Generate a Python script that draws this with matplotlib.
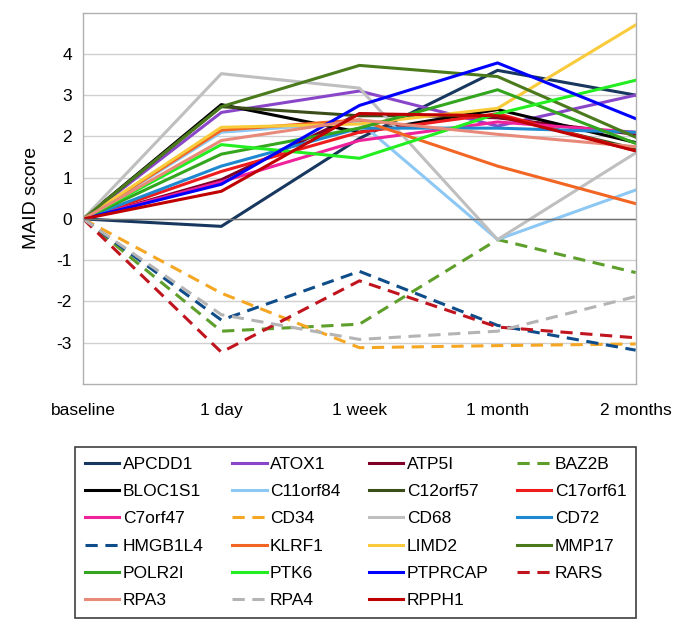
import matplotlib
matplotlib.use("Agg")
import matplotlib.pyplot as plt

plt.rcParams['font.family'] = ['Liberation Sans', 'DejaVu Sans']

timepoints = ["baseline", "1 day", "1 week", "1 month", "2 months"]

APCDD1   = [0, -0.18, 1.95, 3.60, 3.00]
ATOX1    = [0, 2.58, 3.10, 2.25, 3.00]
ATP5I    = [0, 0.95, 2.55, 2.45, 2.05]
BAZ2B    = [0, -2.72, -2.55, -0.50, -1.30]
BLOC1S1  = [0, 2.77, 2.10, 2.65, 1.85]
C11orf84 = [0, 2.10, 2.35, -0.50, 0.70]
C12orf57 = [0, 2.72, 2.50, 2.50, 1.70]
C17orf61 = [0, 1.15, 2.10, 2.55, 1.65]
C7orf47  = [0, 0.90, 1.90, 2.35, 2.10]
CD34     = [0, -1.80, -3.12, -3.07, -3.03]
CD68     = [0, 3.52, 3.17, -0.50, 1.60]
CD72     = [0, 1.28, 2.20, 2.20, 2.10]
HMGB1L4  = [0, -2.45, -1.27, -2.58, -3.18]
KLRF1    = [0, 2.15, 2.40, 1.28, 0.37]
LIMD2    = [0, 2.22, 2.30, 2.68, 4.70]
MMP17    = [0, 2.72, 3.72, 3.45, 1.98]
POLR2I   = [0, 1.57, 2.20, 3.13, 1.83]
PTK6     = [0, 1.80, 1.47, 2.55, 3.36]
PTPRCAP  = [0, 0.84, 2.75, 3.78, 2.43]
RARS     = [0, -3.23, -1.50, -2.62, -2.88]
RPA3     = [0, 1.90, 2.40, 2.05, 1.75]
RPA4     = [0, -2.32, -2.92, -2.72, -1.88]
RPPH1    = [0, 0.67, 2.55, 2.50, 1.65]

genes = ["APCDD1", "ATOX1", "ATP5I", "BAZ2B", "BLOC1S1", "C11orf84", "C12orf57",
         "C17orf61", "C7orf47", "CD34", "CD68", "CD72", "HMGB1L4", "KLRF1", "LIMD2",
         "MMP17", "POLR2I", "PTK6", "PTPRCAP", "RARS", "RPA3", "RPA4", "RPPH1"]
values = [APCDD1, ATOX1, ATP5I, BAZ2B, BLOC1S1, C11orf84, C12orf57, C17orf61,
          C7orf47, CD34, CD68, CD72, HMGB1L4, KLRF1, LIMD2, MMP17, POLR2I, PTK6,
          PTPRCAP, RARS, RPA3, RPA4, RPPH1]
colors = ["#17375E", "#8A46C8", "#7F0027", "#5E9E2A", "#000000", "#8DC8F5", "#3B4E1A",
          "#EE1C1C", "#F0229B", "#F5A623", "#BFBFBF", "#1E88D0", "#0F4C8A", "#F26522",
          "#F9CB3A", "#4A7A1C", "#33A51E", "#22EE22", "#0000FF", "#C0141E", "#E88A7A",
          "#B4B4B4", "#C00000"]
dashed = {"BAZ2B", "CD34", "HMGB1L4", "RARS", "RPA4"}

fig = plt.figure(figsize=(6.85, 6.29), dpi=100)
ax = fig.add_axes([0.1215, 0.3895, 0.8065, 0.5905])

x = list(range(len(timepoints)))
handles = []
for g, v, c in zip(genes, values, colors):
    if g in dashed:
        ln, = ax.plot(x, v, color=c, lw=2.2, dashes=(4, 2.5), solid_capstyle='butt')
    else:
        ln, = ax.plot(x, v, color=c, lw=2.2)
    ln.set_label(g)
    handles.append(ln)

ax.set_xlim(0, 4)
ax.set_ylim(-4, 5)
ax.set_yticks(range(-3, 5))
ax.set_yticklabels([str(t) for t in range(-3, 5)])
ax.set_xticks(x)
ax.set_xticklabels(timepoints)
ax.grid(axis='y', color='#D0D0D0', lw=1)
ax.axhline(0, color='#707070', lw=1)
ax.set_axisbelow(True)
for s in ax.spines.values():
    s.set_color('#B0B0B0')
    s.set_linewidth(1)
ax.tick_params(axis='both', labelsize=12.5, colors='#000000', length=0)
ax.tick_params(axis='x', pad=14)
ax.tick_params(axis='y', pad=8)
ax.set_ylabel("MAID score", fontsize=14, labelpad=12)

# reorder so the legend reads row by row
ncol = 4
order = []
for c in range(ncol):
    order.extend(range(c, len(handles), ncol))
leg = fig.legend([handles[i] for i in order], [genes[i] for i in order],
                 ncol=ncol, loc='upper left',
                 bbox_to_anchor=(75/685, 1-617/629, (636-75)/685, (617-447)/629),
                 mode='expand', fontsize=12.5, frameon=True, fancybox=False,
                 framealpha=1, handlelength=2.0, handletextpad=0.2, columnspacing=1.0,
                 labelspacing=0.7, borderaxespad=0, borderpad=0.55)
leg.get_frame().set_edgecolor('#404040')
leg.get_frame().set_linewidth(1.2)

fig.savefig("out.png", dpi=100)
